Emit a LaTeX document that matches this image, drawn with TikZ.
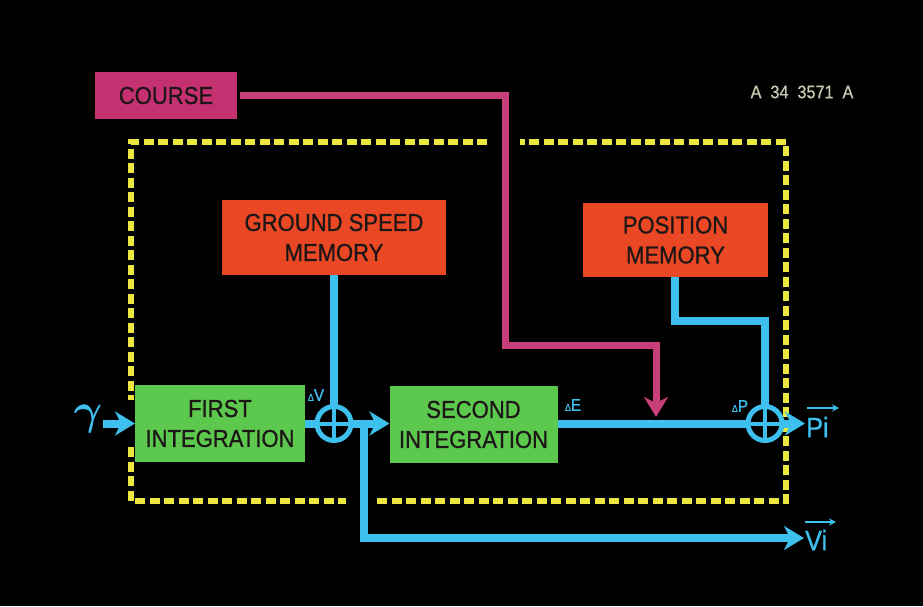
\documentclass[tikz,border=0pt]{standalone}
\usepackage{fontspec}
\usepackage{bm}
\setmainfont{Liberation Sans}
\newfontfamily\boxfont[FakeStretch=0.9,FakeBold=0.8]{Liberation Sans}
\usetikzlibrary{arrows.meta}
\definecolor{cy}{RGB}{62,192,238}
\definecolor{mag}{RGB}{196,48,112}
\definecolor{magl}{RGB}{200,62,122}
\definecolor{org}{RGB}{234,72,36}
\definecolor{grn}{RGB}{92,200,78}
\definecolor{yel}{RGB}{236,230,64}
\definecolor{txt}{RGB}{28,22,22}
\definecolor{gry}{RGB}{200,204,178}
\begin{document}
\begin{tikzpicture}[x=1pt,y=-1pt,
  box/.style={draw=none, text=txt, align=center, inner sep=0pt, outer sep=0pt,
    font=\boxfont\fontsize{24.5}{30}\selectfont},
  flow/.style={cy, line width=8pt},
  arr/.style={flow, -{Stealth[length=20pt,width=24pt,inset=6pt]}},
  magarr/.style={magl, line width=7pt, -{Stealth[length=20pt,width=24pt,inset=6pt]}},
  sumnode/.style={circle, draw=cy, line width=5pt, fill=black, minimum size=34pt,
    inner sep=0pt, outer sep=0pt},
  cross/.style={cy, line width=4pt},
  fence/.style={yel, line width=6pt, dash pattern=on 10pt off 4.5pt},
  lab/.style={text=cy, inner sep=0pt, font=\boxfont\fontsize{17}{17}\selectfont},
  outlab/.style={text=cy, inner sep=0pt, anchor=west, font=\boxfont\fontsize{28}{28}\selectfont},
  vec/.style={cy, line width=2.5pt, -{Stealth[length=7pt,width=7pt]}}
]
\fill[black] (0,0) rectangle (923,606);
\useasboundingbox (0,0) rectangle (923,606);

% dashed enclosure
\draw[fence] (487,142) -- (131,142) -- (131,400);
\draw[fence] (131,447) -- (131,501) -- (346,501);
\draw[fence] (377,501) -- (786,501) -- (786,142) -- (520,142);

% boxes
\node[box, fill=mag, minimum width=142pt, minimum height=47pt] (course) at (166,95.5) {COURSE};
\node[box, fill=org, minimum width=224pt, minimum height=75pt] (gsm) at (334,237.5) {GROUND SPEED\\MEMORY};
\node[box, fill=org, minimum width=185pt, minimum height=74pt] (pm) at (675.5,240) {POSITION\\MEMORY};
\node[box, fill=grn, minimum width=170pt, minimum height=77pt] (fi) at (220,423.5) {FIRST\\INTEGRATION};
\node[box, fill=grn, minimum width=168pt, minimum height=77pt] (si) at (473.5,424.5) {SECOND\\INTEGRATION};

% summing junctions
\node[sumnode] (s1) at (334,423.5) {};
\node[sumnode] (s2) at (765,423.5) {};

% input / outputs
\node[text=cy, inner sep=0pt, font=\fontsize{24.88}{26}\selectfont] (gam) at (88,419)
  {\scalebox{1.75}{$\bm{\gamma}$}};
\node[outlab] (pi) at (806,427) {Pi};
\node[outlab] (vi) at (805,540) {Vi};
\draw[vec] (807,408) -- (839,408);
\draw[vec] (805,522) -- (836,522);

% coordinates for bends
\coordinate (cturn) at (505,345);
\coordinate (ctip) at (656,417);
\coordinate (vturn) at (364,538);
\coordinate (pturn) at (675,321);

% course line
\draw[magarr] ([xshift=3pt]course.east) -| (cturn) -| (ctip);

% cyan flows
\draw[flow] (gsm.south -| s1) -- (s1.north);
\draw[flow] (fi.east |- s1) -- (s1.west);
\draw[arr] (s1.east) -- (si.west |- s1);
\draw[flow] (vturn |- s1) -- (vturn);
\draw[arr] ([xshift=-4pt]vturn) -- ([xshift=-1pt]vi.west |- vturn);
\draw[flow] (si.east |- s2) -- (s2.west);
\draw[arr] (s2.east) -- ([xshift=-1pt]pi.west |- s2);
\draw[flow] (pm.south -| pturn) -- (pturn) -| (s2.north);
\draw[arr] (103,423.5) -- (fi.west);

% crosses in junctions
\draw[cross] (s1.north) -- (s1.south) (s1.west) -- (s1.east);
\draw[cross] (s2.north) -- (s2.south) (s2.west) -- (s2.east);

% small labels
\node[lab] (dv) at (316,395) {{\fontsize{10}{10}\selectfont Δ}V};
\node[lab] (de) at (573,405) {{\fontsize{10}{10}\selectfont Δ}E};
\node[lab] (dp) at (740,406) {{\fontsize{10}{10}\selectfont Δ}P};

% serial
\node[text=gry, inner sep=0pt, font=\boxfont\fontsize{18}{18}\selectfont] (ser) at (802,92) {A\ \ 34\ \ 3571\ \ A};
\end{tikzpicture}
\end{document}
